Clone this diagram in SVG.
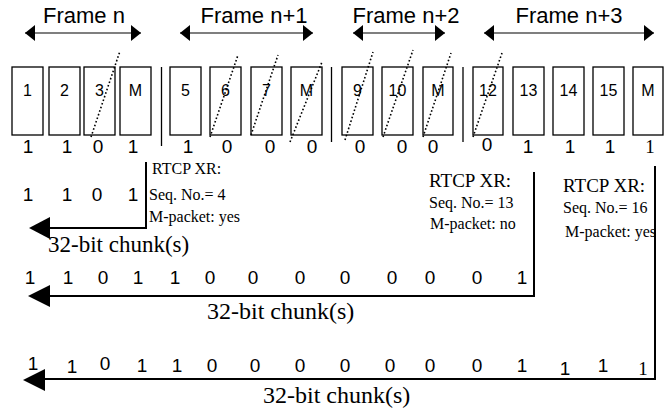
<svg xmlns="http://www.w3.org/2000/svg" width="668" height="410" viewBox="0 0 668 410">
<style>
.ft{font-family:"Liberation Sans",Arial,sans-serif;font-size:22px;fill:#000;text-anchor:middle}
.bn{font-family:"Liberation Sans",Arial,sans-serif;font-size:16px;fill:#000;text-anchor:middle}
.bit{font-family:"Liberation Sans",Arial,sans-serif;font-size:19px;fill:#000;text-anchor:middle}
.sbit{font-family:"Liberation Serif","Times New Roman",serif;font-size:19px;fill:#000;text-anchor:middle}
.rt{font-family:"Liberation Serif","Times New Roman",serif;font-size:16px;fill:#000}
.rtb{font-family:"Liberation Serif","Times New Roman",serif;font-size:19px;fill:#000}
.ch{font-family:"Liberation Serif","Times New Roman",serif;font-size:24px;fill:#000}
.box{fill:#fff;stroke:#000;stroke-width:1.3}
.fa{stroke:#000;stroke-width:1.2;fill:none}
.dot{stroke:#000;stroke-width:1.6;stroke-dasharray:1.6 2.2;fill:none}
.sep{stroke:#000;stroke-width:1.3;fill:none}
.ln{stroke:#000;stroke-width:2;fill:none}
</style>
<defs>
<marker id="fh" viewBox="0 0 10 16" refX="10" refY="8" markerWidth="10" markerHeight="16" markerUnits="userSpaceOnUse" orient="auto-start-reverse">
<path d="M0,0 L10,8 L0,16 Z" fill="#000"/>
</marker>
</defs>

<g id="frames">
<text class="ft" x="84" y="23">Frame n</text>
<text class="ft" x="254" y="23">Frame n+1</text>
<text class="ft" x="406" y="23">Frame n+2</text>
<text class="ft" x="569" y="23">Frame n+3</text>
<line class="fa" x1="25" y1="33" x2="141" y2="33" marker-start="url(#fh)" marker-end="url(#fh)"/>
<line class="fa" x1="180" y1="33" x2="313" y2="33" marker-start="url(#fh)" marker-end="url(#fh)"/>
<line class="fa" x1="353" y1="33" x2="445" y2="33" marker-start="url(#fh)" marker-end="url(#fh)"/>
<line class="fa" x1="484" y1="33" x2="654" y2="33" marker-start="url(#fh)" marker-end="url(#fh)"/>
</g>

<g id="p1"><rect class="box" x="12" y="67" width="31" height="68"/><text class="bn" x="27.5" y="96">1</text></g>
<g id="p2"><rect class="box" x="49" y="67" width="31" height="68"/><text class="bn" x="64.5" y="96">2</text></g>
<g id="p3"><rect class="box" x="84" y="67" width="31" height="68"/><text class="bn" x="99.5" y="96">3</text></g>
<g id="pM1"><rect class="box" x="120" y="67" width="31" height="68"/><text class="bn" x="135.5" y="96">M</text></g>
<g id="p5"><rect class="box" x="170" y="67" width="31" height="68"/><text class="bn" x="185.5" y="96">5</text></g>
<g id="p6"><rect class="box" x="210" y="67" width="31" height="68"/><text class="bn" x="225.5" y="96">6</text></g>
<g id="p7"><rect class="box" x="251" y="67" width="31" height="68"/><text class="bn" x="266.5" y="96">7</text></g>
<g id="pM2"><rect class="box" x="291" y="67" width="31" height="68"/><text class="bn" x="306.5" y="96">M</text></g>
<g id="p9"><rect class="box" x="342" y="67" width="31" height="68"/><text class="bn" x="357.5" y="96">9</text></g>
<g id="p10"><rect class="box" x="382" y="67" width="31" height="68"/><text class="bn" x="397.5" y="96">10</text></g>
<g id="pM3"><rect class="box" x="423" y="67" width="30" height="68"/><text class="bn" x="438" y="96">M</text></g>
<g id="p12"><rect class="box" x="473" y="67" width="30" height="68"/><text class="bn" x="488" y="96">12</text></g>
<g id="p13"><rect class="box" x="513" y="67" width="31" height="68"/><text class="bn" x="528.5" y="96">13</text></g>
<g id="p14"><rect class="box" x="553" y="67" width="31" height="68"/><text class="bn" x="568.5" y="96">14</text></g>
<g id="p15"><rect class="box" x="593" y="67" width="31" height="68"/><text class="bn" x="608.5" y="96">15</text></g>
<g id="pM4"><rect class="box" x="633" y="67" width="30" height="68"/><text class="bn" x="648" y="96">M</text></g>

<g id="losses">
<line class="dot" x1="91" y1="137" x2="120" y2="51"/>
<line class="dot" x1="210" y1="137" x2="238" y2="55"/>
<line class="dot" x1="251" y1="135" x2="278" y2="55"/>
<line class="dot" x1="290" y1="142" x2="322" y2="62"/>
<line class="dot" x1="345" y1="140" x2="373" y2="52"/>
<line class="dot" x1="383" y1="137" x2="413" y2="50"/>
<line class="dot" x1="423" y1="137" x2="451" y2="53"/>
<line class="dot" x1="473" y1="137" x2="502" y2="53"/>
</g>

<g id="separators">
<line class="sep" x1="161.5" y1="67" x2="161.5" y2="146"/>
<line class="sep" x1="331.5" y1="67" x2="331.5" y2="142"/>
<line class="sep" x1="463" y1="67" x2="463" y2="142"/>
</g>

<g id="bits-row0">
<text class="bit" x="28" y="153">1</text>
<text class="bit" x="67" y="153">1</text>
<text class="bit" x="98" y="153">0</text>
<text class="bit" x="133" y="153">1</text>
<text class="bit" x="188" y="153">1</text>
<text class="bit" x="227" y="153">0</text>
<text class="bit" x="270" y="153">0</text>
<text class="bit" x="312" y="153">0</text>
<text class="bit" x="360" y="153">0</text>
<text class="bit" x="402" y="153">0</text>
<text class="bit" x="433" y="153">0</text>
<text class="bit" x="487" y="151">0</text>
<text class="bit" x="528" y="153">1</text>
<text class="bit" x="570" y="153">1</text>
<text class="bit" x="610" y="153">1</text>
<text class="sbit" x="650" y="153">1</text>
</g>

<g id="connectors">
<polyline class="ln" points="146,162 146,228 48,228"/>
<polygon points="29,228 50,217 50,239" fill="#000"/>
<polyline class="ln" points="534,172 534,296 48,296"/>
<polygon points="28,296 50,285 50,307" fill="#000"/>
<polyline class="ln" points="655,166 655,379 43,379"/>
<polygon points="23,380 45,369 45,391" fill="#000"/>
</g>

<g id="xr1">
<text class="rt" x="152" y="174">RTCP XR:</text>
<text class="rt" x="149" y="200">Seq. No.= 4</text>
<text class="rt" x="149" y="222">M-packet: yes</text>
</g>
<g id="xr2">
<text class="rtb" x="429" y="187">RTCP XR:</text>
<text class="rt" x="429" y="208">Seq. No.= 13</text>
<text class="rt" x="430" y="229">M-packet: no</text>
</g>
<g id="xr3">
<text class="rtb" x="563" y="192">RTCP XR:</text>
<text class="rt" x="563" y="213">Seq. No.= 16</text>
<text class="rt" x="565" y="237">M-packet: yes</text>
</g>

<g id="bits-row1">
<text class="bit" x="28" y="201">1</text>
<text class="bit" x="67" y="201">1</text>
<text class="bit" x="97" y="201">0</text>
<text class="bit" x="133" y="201">1</text>
</g>
<text class="ch" x="48" y="252" style="font-size:23px">32-bit chunk(s)</text>

<g id="bits-row2">
<text class="bit" x="30" y="284">1</text>
<text class="bit" x="68" y="284">1</text>
<text class="bit" x="103" y="284">0</text>
<text class="bit" x="138" y="284">1</text>
<text class="bit" x="175" y="284">1</text>
<text class="bit" x="210" y="284">0</text>
<text class="bit" x="253" y="284">0</text>
<text class="bit" x="300" y="284">0</text>
<text class="bit" x="345" y="284">0</text>
<text class="bit" x="392" y="284">0</text>
<text class="bit" x="430" y="284">0</text>
<text class="bit" x="477" y="284">0</text>
<text class="bit" x="522" y="284">1</text>
</g>
<text class="ch" x="207" y="319">32-bit chunk(s)</text>

<g id="bits-row3">
<text class="bit" x="33" y="370">1</text>
<text class="bit" x="72" y="373">1</text>
<text class="bit" x="105" y="370">0</text>
<text class="bit" x="142" y="372">1</text>
<text class="bit" x="177" y="372">1</text>
<text class="bit" x="212" y="372">0</text>
<text class="bit" x="255" y="372">0</text>
<text class="bit" x="300" y="372">0</text>
<text class="bit" x="345" y="372">0</text>
<text class="bit" x="390" y="372">0</text>
<text class="bit" x="430" y="372">0</text>
<text class="bit" x="477" y="372">0</text>
<text class="bit" x="522" y="372">1</text>
<text class="bit" x="565" y="375">1</text>
<text class="bit" x="603" y="372">1</text>
<text class="sbit" x="643" y="375">1</text>
</g>
<text class="ch" x="263" y="403">32-bit chunk(s)</text>
</svg>
